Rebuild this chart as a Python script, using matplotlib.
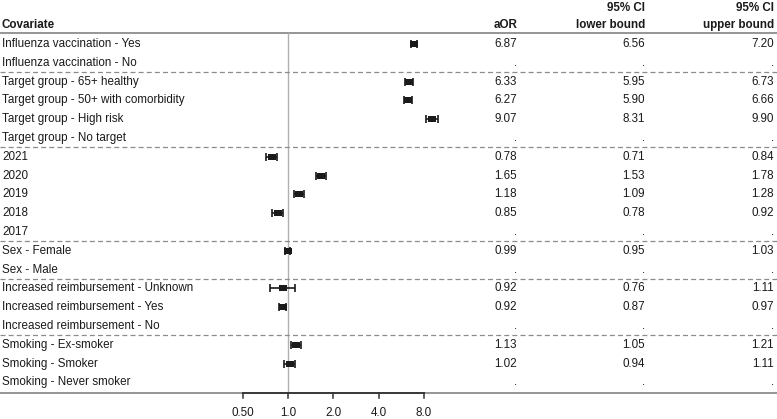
import numpy as np
import matplotlib
matplotlib.use('Agg')
import matplotlib.pyplot as plt

plt.rcParams['font.family'] = ['Liberation Sans', 'DejaVu Sans']

labels = ['Influenza vaccination - Yes', 'Influenza vaccination - No',
          'Target group - 65+ healthy', 'Target group - 50+ with comorbidity',
          'Target group - High risk', 'Target group - No target',
          '2021', '2020', '2019', '2018', '2017',
          'Sex - Female', 'Sex - Male',
          'Increased reimbursement - Unknown', 'Increased reimbursement - Yes',
          'Increased reimbursement - No',
          'Smoking - Ex-smoker', 'Smoking - Smoker', 'Smoking - Never smoker']
aor = [6.87, None, 6.33, 6.27, 9.07, None, 0.78, 1.65, 1.18, 0.85, None,
       0.99, None, 0.92, 0.92, None, 1.13, 1.02, None]
lower = [6.56, None, 5.95, 5.90, 8.31, None, 0.71, 1.53, 1.09, 0.78, None,
         0.95, None, 0.76, 0.87, None, 1.05, 0.94, None]
upper = [7.20, None, 6.73, 6.66, 9.90, None, 0.84, 1.78, 1.28, 0.92, None,
         1.03, None, 1.11, 0.97, None, 1.21, 1.11, None]
group_ends = [1, 5, 10, 12, 15]
xticks = [0.5, 1, 2, 4, 8]
xticklabels = ['0.50', '1.0', '2.0', '4.0', '8.0']

W, H = 777, 419
fig = plt.figure(figsize=(W / 100, H / 100), dpi=100)
ax = fig.add_axes([0, 0, 1, 1])
ax.set_xscale('log', base=2)
# pixel 243 -> 0.5, 45.25 px per doubling
ppd = 45.25
ax.set_xlim(2 ** (-1 - 243 / ppd), 2 ** (-1 + (W - 243) / ppd))
# rows: y_pix = 44 + 18.8*i
rp = 18.8
ax.set_ylim((H - 44) / rp, -44 / rp)
for s in ax.spines.values():
    s.set_visible(False)
ax.set_xticks([])
ax.set_yticks([])

top = (33 - 44) / rp
bot = (393 - 44) / rp
gray = '#8c8c8c'
ink = '#1a1a1a'
fs = 8.4

ax.axhline(top, color=gray, lw=1.3)
ax.axhline(bot, color=gray, lw=1.3)
ax.plot([1, 1], [top, bot], color='#b0b0b0', lw=1.0)
for g in group_ends:
    ax.axhline(g + 0.5, color=gray, lw=0.9, ls=(0, (4, 2.5)))

# axis bar and ticks
ax.plot([0.5, 8], [bot, bot], color='#333333', lw=1.3, clip_on=False, zorder=3)
tick_len = 5 / rp
lab_y = (413 - 44) / rp
for t, tl in zip(xticks, xticklabels):
    ax.plot([t, t], [bot, bot + tick_len], color='#333333', lw=1.1, zorder=3)
    ax.text(t, lab_y, tl, ha='center', va='center', fontsize=fs, color=ink)

# headers
tr = ax.get_yaxis_transform()
def xf(px):
    return px / W
ax.text(xf(2), -1.0, 'Covariate', ha='left', va='center', fontsize=fs,
        fontweight='bold', color=ink, transform=tr)
hdr_rows = [(-1.92, ['', '95% CI', '95% CI']), (-1.0, ['aOR', 'lower bound', 'upper bound'])]
col_x = [517, 645, 774]
for yy, texts in hdr_rows:
    for cx, tx in zip(col_x, texts):
        ax.text(xf(cx), yy, tx, ha='right', va='center', fontsize=fs,
                fontweight='bold', color=ink, transform=tr)

rect = [(-1, -0.7), (1, -0.7), (1, 0.7), (-1, 0.7), (-1, -0.7)]

# rows
for i, lab in enumerate(labels):
    ax.text(xf(2), i, lab, ha='left', va='center', fontsize=fs, color=ink, transform=tr)
    vals = [aor[i], lower[i], upper[i]]
    for cx, v in zip(col_x, vals):
        s = '%.2f' % v if v is not None else '.'
        ax.text(xf(cx), i, s, ha='right', va='center', fontsize=fs, color=ink, transform=tr)
    if aor[i] is not None:
        ax.errorbar(aor[i], i, xerr=[[aor[i] - lower[i]], [upper[i] - aor[i]]],
                    fmt='none', ecolor=ink, elinewidth=1.2,
                    capsize=3.0, capthick=1.2, zorder=4)
        ax.plot(aor[i], i, marker=rect, ms=5.6, color=ink, mew=0, ls='none', zorder=5)

fig.savefig('out.png', dpi=100)
